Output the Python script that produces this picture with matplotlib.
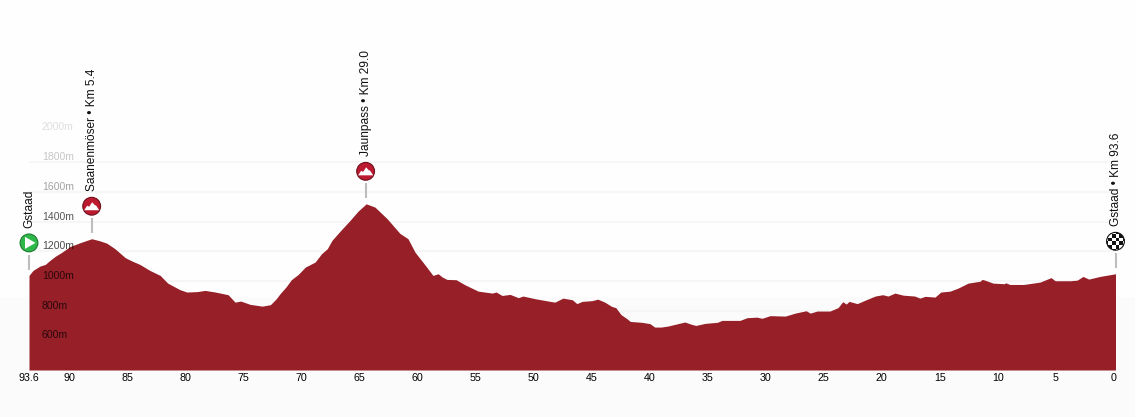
import matplotlib
matplotlib.use("Agg")
import matplotlib.pyplot as plt
from matplotlib.patches import Circle, Polygon, Rectangle
from matplotlib.transforms import IdentityTransform, ScaledTranslation

plt.rcParams['font.family'] = ['Liberation Sans', 'DejaVu Sans']

km_to_go = [93.6, 93.25, 92.65, 92.2, 91.8, 91.35, 90.75, 90.05, 89.2, 88.2, 87.5, 86.9, 86.2, 85.3, 84.7,
            84.05, 83.2, 82.3, 81.65, 80.6, 80.0, 79.1, 78.45, 77.55, 76.45, 75.85, 75.35, 74.55, 73.5, 72.8,
            72.3, 71.95, 71.45, 71.0, 70.4, 69.8, 68.95, 68.4, 67.9, 67.5, 66.8, 65.95, 65.25, 64.55, 63.8, 62.75, 61.65,
            60.95, 60.35, 59.45, 58.8, 58.35, 58.0, 57.6, 56.8, 56.05, 54.9, 53.7, 53.35, 52.85, 52.15, 51.45,
            51.05, 50.0, 48.7, 48.3, 47.6, 46.8, 46.4, 45.95, 45.1, 44.6, 44.0, 43.4, 43.05, 42.6, 42.1,
            41.8, 40.8, 40.1, 39.7, 39.15, 38.55, 37.7, 37.1, 36.5, 36.15, 35.35, 34.3, 33.9, 32.35, 31.75,
            30.9, 30.45, 29.75, 28.45, 27.6, 26.65, 26.3, 25.7, 24.6, 23.9, 23.5, 23.2, 22.95, 22.25, 21.6,
            20.7, 20.05, 19.6, 19.0, 18.3, 17.3, 16.85, 16.4, 15.55, 15.05, 14.25, 13.55, 12.7, 11.65, 11.5,
            11.25, 10.55, 9.6, 9.45, 9.1, 7.9, 6.5, 5.55, 5.2, 3.9, 3.3, 2.8, 2.3, 1.35, 0.0]
elevation = [1037, 1071, 1100, 1111, 1138, 1165, 1194, 1232, 1257, 1284, 1270, 1254, 1217, 1156, 1133,
             1111, 1071, 1037, 985, 941, 925, 928, 936, 925, 907, 857, 864, 842, 830, 840,
             880, 916, 960, 1008, 1044, 1093, 1127, 1183, 1217, 1273, 1335, 1407, 1470, 1519, 1497, 1419, 1320,
             1284, 1194, 1104, 1037, 1048, 1026, 1010, 1008, 974, 931, 918, 925, 902, 909, 887,
             898, 880, 862, 857, 884, 873, 847, 862, 867, 877, 857, 828, 820, 773, 746,
             727, 721, 712, 689, 689, 696, 712, 723, 707, 700, 714, 721, 734, 734, 752,
             756, 748, 766, 763, 783, 799, 783, 797, 797, 820, 860, 844, 862, 847, 869,
             898, 907, 898, 918, 904, 898, 884, 896, 891, 925, 931, 952, 985, 998, 1010,
             1005, 985, 981, 987, 976, 976, 992, 1022, 1001, 1001, 1005, 1030, 1012, 1030, 1048]

x_ticks = [93.6, 90, 85, 80, 75, 70, 65, 60, 55, 50, 45, 40, 35, 30, 25, 20, 15, 10, 5, 0]
x_tick_labels = ['93.6', '90', '85', '80', '75', '70', '65', '60', '55', '50', '45', '40', '35', '30', '25',
                 '20', '15', '10', '5', '0']
y_ticks = [600, 800, 1000, 1200, 1400, 1600, 1800, 2000]
y_tick_labels = ['600m', '800m', '1000m', '1200m', '1400m', '1600m', '1800m', '2000m']
y_label_alpha = [0.72, 0.72, 0.72, 0.7, 0.66, 0.36, 0.22, 0.13]
grid_levels = [800, 1000, 1200, 1400, 1600, 1800]

place_km = [93.6, 88.2, 64.6, 0.0]
place_elev = [1037, 1284, 1519, 1048]
place_labels = ['Gstaad', 'Saanenmöser • Km 5.4', 'Jaunpass • Km 29.0', 'Gstaad • Km 93.6']
place_kinds = ['start', 'climb', 'climb', 'finish']

W, H = 1135, 417
L, R, B, T = 29, 1115.5, 370, 40
fig = plt.figure(figsize=(W / 100, H / 100), dpi=100, facecolor='#fefefe')
fig.patches.append(Rectangle((0, 0), 1, (H - 297) / H, transform=fig.transFigure,
                             facecolor='#fbfbfb', edgecolor='none', zorder=-5))
ax = fig.add_axes([L / W, (H - B) / H, (R - L) / W, (B - T) / H])
ax.patch.set_visible(False)
ax.set_xlim(93.6, 0)
ax.set_ylim(400, 400 + (B - T) / 0.1485)
for s in ax.spines.values():
    s.set_visible(False)

ax.hlines(grid_levels, 93.6, 0, color='#f6f6f6', lw=1.5, zorder=1)
ax.fill_between(km_to_go, 400, elevation, color='#961f28', lw=0, zorder=2)

ax.set_yticks([])
ax.set_xticks(x_ticks, x_tick_labels)
ax.tick_params(axis='x', length=0, pad=2, labelsize=7.7, labelcolor='#000000')
for v, lab in zip(x_ticks, ax.get_xticklabels()):
    if v != 93.6:
        lab.set_transform(lab.get_transform() + ScaledTranslation(-1.5 / 100, 0, fig.dpi_scale_trans))

for v, t, a in zip(y_ticks, y_tick_labels, y_label_alpha):
    ax.annotate(t, xy=(93.6, v), xytext=(13, 5), textcoords='offset pixels', ha='left', va='center',
                fontsize=7.6, color='black', alpha=a, zorder=4)

fig.canvas.draw()
px = IdentityTransform()
for k, e, text, kind in zip(place_km, place_elev, place_labels, place_kinds):
    cx, base = ax.transData.transform((k, e))
    ax.plot([cx, cx], [base + 5.5, base + 20.5], transform=px, color='#bdbdbd', lw=1.5,
            solid_capstyle='butt', clip_on=False, zorder=5)
    cy = base + 32.5
    edge = {'start': '#1f7a30', 'climb': '#6d101b', 'finish': '#111111'}[kind]
    face = {'start': '#2fb84a', 'climb': '#bb1a30', 'finish': 'white'}[kind]
    disc = Circle((cx, cy), 8.9, transform=px, facecolor=face, edgecolor=edge, lw=0.8, zorder=6, clip_on=False)
    ax.add_patch(disc)
    if kind == 'start':
        ax.add_patch(Polygon([(cx - 4, cy + 6), (cx - 4, cy - 6), (cx + 6.5, cy)], transform=px,
                             facecolor='white', edgecolor='none', zorder=7, clip_on=False))
    elif kind == 'climb':
        ax.add_patch(Polygon([(cx - 7.5, cy - 4), (cx - 4.5, cy + .5), (cx - 2.5, cy - .5), (cx + .5, cy + 4),
                              (cx + 3, cy + 1.2), (cx + 4.5, cy + .6), (cx + 7.5, cy - 4)], transform=px,
                             facecolor='white', edgecolor='none', zorder=7, clip_on=False))
    else:
        size = 3.7
        for i in range(-3, 3):
            for j in range(-3, 3):
                if (i + j) % 2 == 0:
                    sq = Rectangle((cx + i * size, cy + j * size), size, size, transform=px,
                                   facecolor='#111111', edgecolor='none', zorder=7)
                    ax.add_patch(sq)
                    sq.set_clip_path(disc)
                    sq.set_clip_box(None)
    ax.text(cx + 0.8, cy + 15, text, transform=px, rotation=90, ha='center', va='bottom',
            fontsize=8.6, color='#111111', zorder=8, clip_on=False)

fig.savefig('out.png', dpi=100, facecolor=fig.get_facecolor())
